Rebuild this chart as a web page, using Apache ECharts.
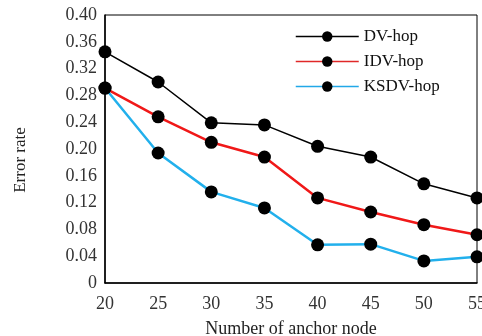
<!DOCTYPE html>
<html><head><meta charset="utf-8">
<script src="https://cdn.jsdelivr.net/npm/echarts@6/dist/echarts.min.js"></script>
<style>html,body{margin:0;padding:0;background:#fff}#c{width:482px;height:336px}</style>
</head><body><div id="c"></div>
<script>
var categories = ['20','25','30','35','40','45','50','55'];
var dvHop   = [0.345, 0.300, 0.239, 0.236, 0.204, 0.188, 0.148, 0.127];
var idvHop  = [0.291, 0.248, 0.210, 0.188, 0.127, 0.106, 0.087, 0.072];
var ksdvHop = [0.291, 0.194, 0.136, 0.112, 0.057, 0.058, 0.033, 0.039];
var yTickLabels = ['0','0.04','0.08','0.12','0.16','0.20','0.24','0.28','0.32','0.36','0.40'];

var font = 'Liberation Serif';
var chart = echarts.init(document.getElementById('c'));
function mk(name, data, color, w){
  return {name:name, type:'line', data:data, symbol:'circle', symbolSize:13,
    itemStyle:{color:'#000'}, lineStyle:{color:color, width:w}, z: 3};
}
chart.setOption({
  animation:false,
  grid:{left:105, right:5, top:15, bottom:53, show:true, borderColor:'#000', borderWidth:1,
    containLabel:false, outerBoundsMode:'none'},
  legend:{left:290, top:23, orient:'vertical', itemWidth:63, itemHeight:13, itemGap:8,
    textStyle:{fontFamily:font, fontSize:17, color:'#111', padding:[0,0,0,0]},
    data:[
      {name:'DV-hop', itemStyle:{color:'#000'}, lineStyle:{color:'#000', width:1.5}},
      {name:'IDV-hop', itemStyle:{color:'#000'}, lineStyle:{color:'#e02828', width:1.5}},
      {name:'KSDV-hop', itemStyle:{color:'#000'}, lineStyle:{color:'#22a8e8', width:1.5}}
    ]},
  xAxis:{type:'category', data:categories, boundaryGap:false,
    name:'Number of anchor node', nameLocation:'middle', nameGap:37,
    nameTextStyle:{fontFamily:font, fontSize:18, color:'#222'},
    axisLine:{lineStyle:{color:'#000', width:1.5}}, axisTick:{show:false},
    axisLabel:{fontFamily:font, fontSize:18, color:'#333', margin:12}, splitLine:{show:false}},
  yAxis:{type:'value', min:0, max:0.4, interval:0.04,
    name:'Error rate', nameLocation:'middle', nameGap:76, nameRotate:90,
    nameTextStyle:{fontFamily:font, fontSize:17, color:'#222', padding:[0,22,0,0]},
    axisLine:{show:true, lineStyle:{color:'#000', width:1.5}}, axisTick:{show:false},
    axisLabel:{fontFamily:font, fontSize:18, color:'#333', margin:8,
      formatter:function(v){ return yTickLabels[Math.round(v/0.04)]; }},
    splitLine:{show:false}},
  series:[
    mk('DV-hop', dvHop, '#000', 1.5),
    mk('IDV-hop', idvHop, '#f01818', 2.5),
    mk('KSDV-hop', ksdvHop, '#22b0ec', 2.5)
  ]
});
</script></body></html>
